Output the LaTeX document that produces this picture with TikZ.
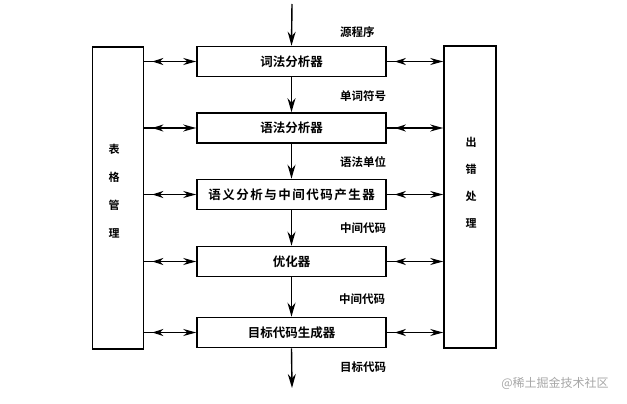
\documentclass[tikz,border=0pt]{standalone}
\usepackage{fontspec}
\newfontfamily\cjk{Noto Sans CJK SC}
\newfontfamily\cjkb{Noto Sans CJK SC Bold}
\usetikzlibrary{arrows.meta,decorations.markings}
\tikzset{
  stage/.style={draw, line width=1.6pt, minimum width=189pt, minimum height=30pt, inner sep=0pt, font=\cjkb\fontsize{12.5}{12.5}\selectfont},
  sidebox/.style={draw, line width=1.6pt, minimum width=51pt, minimum height=302pt, inner sep=0pt},
  sidetext/.style={font=\cjkb\fontsize{11}{11}\selectfont, inner sep=0pt},
  flowlabel/.style={font=\cjkb\fontsize{11.5}{11.5}\selectfont, inner sep=0pt, anchor=west},
  flow/.style={line width=1.4pt, -{Stealth[length=14pt,width=8pt]}},
  dbl/.style={line width=1.4pt, -{Stealth[length=13pt,width=7pt]},
    postaction={decorate}, decoration={markings,
      mark=at position 8pt with {\arrowreversed{Stealth[length=11pt,width=7pt]}}}},
}
\begin{document}
\begin{tikzpicture}[x=1pt,y=-1pt]
\useasboundingbox (0,0) rectangle (627,404);
% central stages
\node[stage] (B1) at (291.5,61.5) {词法分析器};
\node[stage] (B2) at (291.5,128) {语法分析器};
\node[stage] (B3) at (291.5,194.5) {\addfontfeature{LetterSpace=12}语义分析与中间代码产生器};
\node[stage] (B4) at (291.5,261.5) {优化器};
\node[stage] (B5) at (291.5,332.5) {目标代码生成器};
% side boxes
\node[sidebox] (L) at (118,198) {};
\node[sidebox, minimum width=52pt] (R) at (470,197) {};
\node[sidetext, align=center] (LT) at (114,191.5) {表\\[17pt]格\\[17pt]管\\[17pt]理};
\node[sidetext, align=center] (RT) at (471,183) {出\\[16pt]错\\[16pt]处\\[16pt]理};
% flow
\coordinate (top) at (292,4);
\coordinate (bot) at (292,388);
\draw[flow] (top) -- (B1.north);
\draw[flow] (B1.south) -- (B2.north);
\draw[flow] (B2.south) -- (B3.north);
\draw[flow] (B3.south) -- (B4.north);
\draw[flow] (B4.south) -- (B5.north);
\draw[flow] (B5.south) -- (bot);
% labels
\node[flowlabel] (l0) at (340,32) {源程序};
\node[flowlabel] (l1) at (340,96) {单词符号};
\node[flowlabel] (l2) at (340,162) {语法单位};
\node[flowlabel] (l3) at (340,228) {中间代码};
\node[flowlabel] (l4) at (339,299) {中间代码};
\node[flowlabel] (l5) at (340,367) {目标代码};
% double arrows
\foreach \b in {B1,B2,B3,B4,B5}{
  \draw[dbl] (\b.west -| L.east) -- (\b.west);
  \draw[dbl] (\b.east) -- (\b.east -| R.west);
}
% watermark
\node[font=\cjk\fontsize{12}{12}\selectfont, text=black!35, inner sep=0pt] (wm) at (555,383) {@稀土掘金技术社区};
\end{tikzpicture}
\end{document}
